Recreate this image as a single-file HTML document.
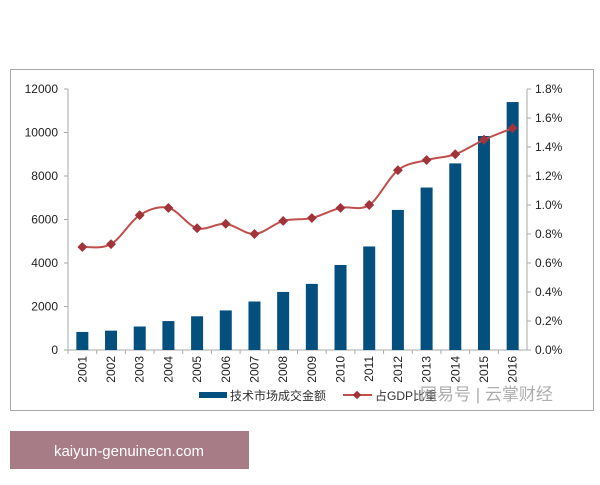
<!DOCTYPE html>
<html><head><meta charset="utf-8"><style>
body{margin:0;background:#fff;width:600px;height:480px;overflow:hidden;font-family:"Liberation Sans","Noto Sans CJK SC",sans-serif}
</style></head><body>
<svg id="c" width="600" height="480" xmlns="http://www.w3.org/2000/svg">
<rect x="10.5" y="69.5" width="583" height="341" fill="#fff" stroke="#aaa"/>
<g id="g"></g>
<rect x="10" y="431" width="239" height="38" fill="#a87c86"/>
<text x="129" y="456" text-anchor="middle" font-size="15" fill="#fff">kaiyun-genuinecn.com</text>
</svg>
<script>
const years=["2001","2002","2003","2004","2005","2006","2007","2008","2009","2010","2011","2012","2013","2014","2015","2016"];
const amount=[830,890,1080,1330,1550,1820,2230,2670,3040,3910,4760,6440,7470,8580,9840,11400];
const gdpShare=[0.71,0.73,0.93,0.98,0.84,0.87,0.80,0.89,0.91,0.98,1.00,1.24,1.31,1.35,1.45,1.53];
const leftTicks=[0,2000,4000,6000,8000,10000,12000];
const rightTicks=[0,0.2,0.4,0.6,0.8,1.0,1.2,1.4,1.6,1.8];
const NS="http://www.w3.org/2000/svg",g=document.getElementById('g');
function mk(t,a,p){const e=document.createElementNS(NS,t);for(const k in a)e.setAttribute(k,a[k]);(p||g).appendChild(e);return e;}
const x0=68,x1=527,yB=350,yT=89;
const yL=v=>yB-(v/12000)*(yB-yT);
const yR=v=>yB-(v/1.8)*(yB-yT);
const step=(x1-x0)/years.length;
const xc=i=>x0+step*(i+0.5);
let e=mk('line',{x1:x0,y1:yT,x2:x0,y2:yB,stroke:'#aaa'});

e=mk('line',{x1:x1,y1:yT,x2:x1,y2:yB,stroke:'#aaa'});

e=mk('line',{x1:x0,y1:yB,x2:x1,y2:yB,stroke:'#aaa'});

leftTicks.forEach(v=>{mk('line',{x1:x0-4,y1:yL(v),x2:x0,y2:yL(v),stroke:'#aaa'});
 e=mk('text',{x:x0-10,y:yL(v)+4,'text-anchor':'end','font-size':12,fill:'#222'});e.textContent=v;
 });
rightTicks.forEach(v=>{mk('line',{x1:x1,y1:yR(v),x2:x1+4,y2:yR(v),stroke:'#aaa'});
 e=mk('text',{x:x1+8,y:yR(v)+4,'font-size':12,fill:'#222'});e.textContent=v.toFixed(1)+'%';
 });
years.forEach((y,i)=>{mk('line',{x1:x0+step*i,y1:yB,x2:x0+step*i,y2:yB+4,stroke:'#aaa'});
 e=mk('rect',{x:xc(i)-6,y:yL(amount[i]),width:12,height:yB-yL(amount[i]),fill:'#03507f'});
 
 e=mk('text',{x:0,y:0,'font-size':12,fill:'#222','text-anchor':'end',transform:`translate(${xc(i)+4},${yB+6}) rotate(-90)`});e.textContent=y;
 });
// smooth line
const pts=gdpShare.map((v,i)=>[xc(i),yR(v)]);
let d='M'+pts[0];
for(let i=0;i<pts.length-1;i++){const p0=pts[i-1]||pts[i],p1=pts[i],p2=pts[i+1],p3=pts[i+2]||p2;
 d+=` C${p1[0]+(p2[0]-p0[0])/6},${p1[1]+(p2[1]-p0[1])/6} ${p2[0]-(p3[0]-p1[0])/6},${p2[1]-(p3[1]-p1[1])/6} ${p2[0]},${p2[1]}`;}
e=mk('path',{d:d,fill:'none',stroke:'#c0504d','stroke-width':2});

pts.forEach((p,i)=>{e=mk('rect',{x:p[0]-3.5,y:p[1]-3.5,width:7,height:7,fill:'#a0343a',transform:`rotate(45 ${p[0]} ${p[1]})`});
 });
// legend
e=mk('rect',{x:199,y:392,width:28,height:6,fill:'#03507f'});

e=mk('text',{x:230,y:400,'font-size':12,fill:'#333'});e.textContent='技术市场成交金额';

e=mk('line',{x1:343,y1:395,x2:372,y2:395,stroke:'#c0504d','stroke-width':2});

mk('rect',{x:354,y:392,width:6,height:6,fill:'#a0343a',transform:'rotate(45 357 395)'});
e=mk('text',{x:375,y:400,'font-size':12,fill:'#333'});e.textContent='占GDP比重';

e=mk('text',{x:420,y:400,'font-size':17,fill:'#999','fill-opacity':0.8});e.textContent='网易号 | 云掌财经';

</script>
</body></html>
